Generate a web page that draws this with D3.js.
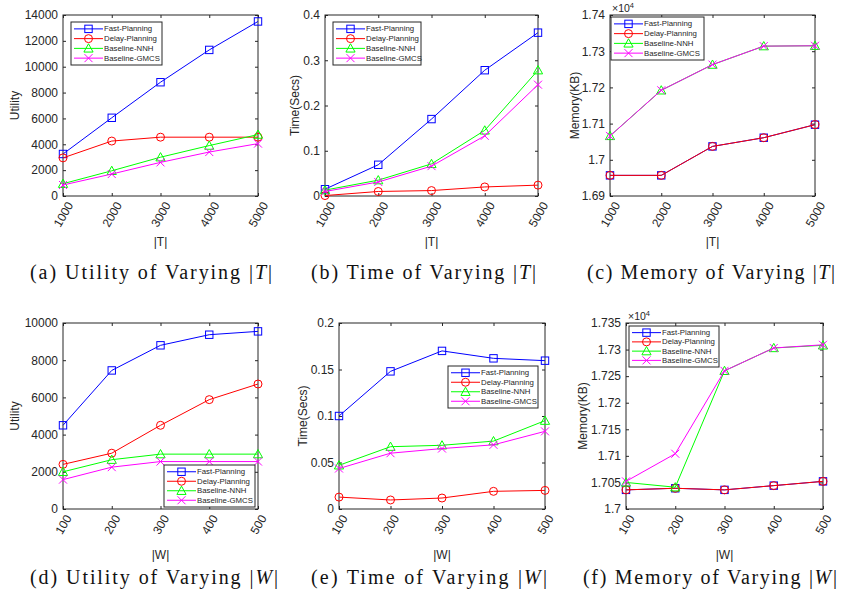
<!DOCTYPE html>
<html><head><meta charset="utf-8">
<script src="https://cdn.jsdelivr.net/npm/d3@7"></script>
<style>body{margin:0;background:#fff}svg{display:block}</style>
</head><body><svg id="chart" width="841" height="598"></svg>
<script>
// ---------------- DATA ----------------
const seriesNames = ["Fast-Planning", "Delay-Planning", "Baseline-NNH", "Baseline-GMCS"];
const xT = [1000, 2000, 3000, 4000, 5000];
const xW = [100, 200, 300, 400, 500];

// (a) Utility of varying |T|
const utilityT_Fast  = [3250, 6050, 8800, 11300, 13500];
const utilityT_Delay = [2950, 4250, 4550, 4550, 4550];
const utilityT_NNH   = [950, 1950, 3000, 3900, 4750];
const utilityT_GMCS  = [850, 1700, 2600, 3400, 4050];
// (b) Time of varying |T|
const timeT_Fast  = [0.015, 0.069, 0.170, 0.278, 0.361];
const timeT_Delay = [0.001, 0.010, 0.012, 0.020, 0.024];
const timeT_NNH   = [0.013, 0.035, 0.071, 0.145, 0.278];
const timeT_GMCS  = [0.010, 0.031, 0.066, 0.133, 0.246];
// (c) Memory of varying |T| (KB)
const memT_Fast  = [16957, 16957, 17037, 17061, 17097];
const memT_Delay = [16957, 16957, 17037, 17061, 17097];
const memT_NNH   = [17066, 17192, 17263, 17314, 17315];
const memT_GMCS  = [17066, 17192, 17263, 17314, 17315];
// (d) Utility of varying |W|
const utilityW_Fast  = [4500, 7450, 8800, 9370, 9550];
const utilityW_Delay = [2400, 3000, 4500, 5880, 6720];
const utilityW_NNH   = [2000, 2650, 2950, 2950, 2950];
const utilityW_GMCS  = [1580, 2250, 2550, 2550, 2550];
// (e) Time of varying |W|
const timeW_Fast  = [0.100, 0.148, 0.170, 0.162, 0.1595];
const timeW_Delay = [0.0128, 0.0097, 0.0118, 0.019, 0.020];
const timeW_NNH   = [0.047, 0.067, 0.0685, 0.073, 0.095];
const timeW_GMCS  = [0.0435, 0.060, 0.065, 0.069, 0.0835];
// (f) Memory of varying |W| (KB)
const memW_Fast  = [17036, 17039, 17036, 17044, 17052];
const memW_Delay = [17036, 17039, 17036, 17044, 17052];
const memW_NNH   = [17050, 17041, 17260, 17303, 17308];
const memW_GMCS  = [17052, 17104, 17260, 17303, 17309];

// tick values
const yTicksUtilityT = [0, 2000, 4000, 6000, 8000, 10000, 12000, 14000];
const yTicksTimeT = [0, 0.1, 0.2, 0.3, 0.4];
const yTicksMemT = [16900, 17000, 17100, 17200, 17300, 17400];
const yTicksUtilityW = [0, 2000, 4000, 6000, 8000, 10000];
const yTicksTimeW = [0, 0.05, 0.1, 0.15, 0.2];
const yTicksMemW = [17000, 17050, 17100, 17150, 17200, 17250, 17300, 17350];

const captionLetters = ["(a)", "(b)", "(c)", "(d)", "(e)", "(f)"];
const captionTexts = ["Utility of Varying |", "Time of Varying |", "Memory of Varying |",
                      "Utility of Varying |", "Time of Varying |", "Memory of Varying |"];
const captionVars = ["T", "T", "T", "W", "W", "W"];

// ---------------- STYLE ----------------
const colors = ["#0000ff", "#ff0000", "#00ff00", "#ff00ff"];
const markers = ["square", "circle", "triangle", "x"];
const axisColor = "#262626";
const sans = "'Liberation Sans', Arial, sans-serif";
const serif = "'Liberation Serif', 'DejaVu Serif', serif";

const fmtInt = d => String(d);
const fmtDec = d => String(+d.toFixed(3));
const fmtMem = d => String(+(d / 1e4).toFixed(4));

const panels = [
  {x: xT, series: [utilityT_Fast, utilityT_Delay, utilityT_NNH, utilityT_GMCS], xDomain: [1000, 5000], yDomain: [0, 14000], yTicks: yTicksUtilityT, yFmt: fmtInt, ylabel: "Utility", xlabel: "|T|",
   box: {L: 63, R: 258, T: 15, B: 196}, ylabelX: 15, legend: {x: 71, y: 22, w: 91, h: 43}, cap: {x: 30, w: 242, y: 279}},
  {x: xT, series: [timeT_Fast, timeT_Delay, timeT_NNH, timeT_GMCS], xDomain: [1000, 5000], yDomain: [0, 0.4], yTicks: yTicksTimeT, yFmt: fmtDec, ylabel: "Time(Secs)", xlabel: "|T|",
   box: {L: 325, R: 538, T: 15, B: 196}, ylabelX: 295, legend: {x: 333, y: 22, w: 88, h: 43}, cap: {x: 311, w: 225, y: 279}},
  {x: xT, series: [memT_Fast, memT_Delay, memT_NNH, memT_GMCS], xDomain: [1000, 5000], yDomain: [16900, 17400], yTicks: yTicksMemT, yFmt: fmtMem, ylabel: "Memory(KB)", xlabel: "|T|", exp: true,
   box: {L: 610, R: 815, T: 15, B: 196}, ylabelX: 575, legend: {x: 611, y: 17, w: 93, h: 43}, cap: {x: 587, w: 248, y: 279}},
  {x: xW, series: [utilityW_Fast, utilityW_Delay, utilityW_NNH, utilityW_GMCS], xDomain: [100, 500], yDomain: [0, 10000], yTicks: yTicksUtilityW, yFmt: fmtInt, ylabel: "Utility", xlabel: "|W|",
   box: {L: 63, R: 258, T: 323, B: 509}, ylabelX: 15, legend: {x: 164, y: 465, w: 91, h: 42}, cap: {x: 30, w: 248, y: 584}},
  {x: xW, series: [timeW_Fast, timeW_Delay, timeW_NNH, timeW_GMCS], xDomain: [100, 500], yDomain: [0, 0.2], yTicks: yTicksTimeW, yFmt: fmtDec, ylabel: "Time(Secs)", xlabel: "|W|",
   box: {L: 339, R: 545, T: 323, B: 509}, ylabelX: 303, legend: {x: 448, y: 366, w: 90, h: 42}, cap: {x: 311, w: 236, y: 584}},
  {x: xW, series: [memW_Fast, memW_Delay, memW_NNH, memW_GMCS], xDomain: [100, 500], yDomain: [17000, 17350], yTicks: yTicksMemW, yFmt: fmtMem, ylabel: "Memory(KB)", xlabel: "|W|", exp: true,
   box: {L: 626, R: 823, T: 323, B: 509}, ylabelX: 583, legend: {x: 629, y: 326, w: 90, h: 41}, cap: {x: 583, w: 254, y: 584}}
];

const svg = d3.select("#chart");

function drawMarker(g, type, cx, cy, color) {
  if (type === "square") {
    g.append("rect").attr("x", cx - 3.7).attr("y", cy - 3.7).attr("width", 7.4).attr("height", 7.4)
      .attr("fill", "none").attr("stroke", color).attr("stroke-width", 1);
  } else if (type === "circle") {
    g.append("circle").attr("cx", cx).attr("cy", cy).attr("r", 4)
      .attr("fill", "none").attr("stroke", color).attr("stroke-width", 1);
  } else if (type === "triangle") {
    const h = 4.6;
    g.append("path").attr("d", `M${cx},${cy - h}L${cx + 4.6},${cy + h * 0.8}L${cx - 4.6},${cy + h * 0.8}Z`)
      .attr("fill", "none").attr("stroke", color).attr("stroke-width", 1);
  } else {
    const s = 4;
    g.append("path").attr("d", `M${cx - s},${cy - s}L${cx + s},${cy + s}M${cx - s},${cy + s}L${cx + s},${cy - s}`)
      .attr("fill", "none").attr("stroke", color).attr("stroke-width", 1);
  }
}

panels.forEach((p, pi) => {
  const b = p.box;
  const g = svg.append("g");
  const x = d3.scaleLinear().domain(p.xDomain).range([b.L, b.R]);
  const y = d3.scaleLinear().domain(p.yDomain).range([b.B, b.T]);

  // box
  g.append("rect").attr("x", b.L).attr("y", b.T).attr("width", b.R - b.L).attr("height", b.B - b.T)
    .attr("fill", "#fff").attr("stroke", axisColor).attr("stroke-width", 1);

  // axes (inward ticks on all sides)
  const styleAxis = sel => {
    sel.select(".domain").remove();
    sel.selectAll("line").attr("stroke", axisColor);
    sel.selectAll("text").attr("fill", axisColor).attr("font-family", sans).attr("font-size", 12);
  };
  const bottom = g.append("g").attr("transform", `translate(0,${b.B})`)
    .call(d3.axisBottom(x).tickValues(p.x).tickSize(-3).tickFormat(d3.format("d"))).call(styleAxis);
  bottom.selectAll("text").each(function () {
    const t = d3.select(this);
    const L = this.getComputedTextLength();
    const off = 4 + (L / 2) * Math.sin(Math.PI / 3) + 6 * Math.cos(Math.PI / 3);
    t.attr("y", null).attr("dy", null).attr("text-anchor", "middle").attr("dominant-baseline", "central")
      .attr("transform", `translate(0,${off}) rotate(-60)`);
  });
  g.append("g").attr("transform", `translate(0,${b.T})`)
    .call(d3.axisTop(x).tickValues(p.x).tickSize(-3).tickFormat("")).call(styleAxis);
  g.append("g").attr("transform", `translate(${b.L},0)`)
    .call(d3.axisLeft(y).tickValues(p.yTicks).tickSize(-3).tickPadding(5).tickFormat(p.yFmt)).call(styleAxis);
  g.append("g").attr("transform", `translate(${b.R},0)`)
    .call(d3.axisRight(y).tickValues(p.yTicks).tickSize(-3).tickFormat("")).call(styleAxis);

  // exponent label
  if (p.exp) {
    const t = g.append("text").attr("x", b.L + 2).attr("y", b.T - 3).attr("fill", axisColor)
      .attr("font-family", sans).attr("font-size", 10.5).text("×10");
    t.append("tspan").attr("dy", -4).attr("font-size", 7.5).text("4");
  }

  // axis labels
  g.append("text").attr("transform", `translate(${p.ylabelX},${(b.T + b.B) / 2}) rotate(-90)`)
    .attr("text-anchor", "middle").attr("dominant-baseline", "central").attr("fill", axisColor)
    .attr("font-family", sans).attr("font-size", 12).text(p.ylabel);
  g.append("text").attr("x", (b.L + b.R) / 2).attr("y", b.B + 50).attr("text-anchor", "middle")
    .attr("fill", axisColor).attr("font-family", sans).attr("font-size", 12).text(p.xlabel);

  // series
  const line = d3.line().x(d => x(d[0])).y(d => y(d[1]));
  p.series.forEach((vals, si) => {
    const pts = p.x.map((xv, i) => [xv, vals[i]]);
    const sg = g.append("g");
    sg.append("path").attr("d", line(pts)).attr("fill", "none").attr("stroke", colors[si]).attr("stroke-width", 1);
    pts.forEach(d => drawMarker(sg, markers[si], x(d[0]), y(d[1]), colors[si]));
  });

  // legend
  const lg = p.legend;
  const leg = g.append("g");
  leg.append("rect").attr("x", lg.x).attr("y", lg.y).attr("width", lg.w).attr("height", lg.h)
    .attr("fill", "#fff").attr("stroke", axisColor).attr("stroke-width", 1);
  const pitch = (lg.h - 4) / 4;
  seriesNames.forEach((name, si) => {
    const cy = lg.y + 2 + pitch * (si + 0.5);
    leg.append("line").attr("x1", lg.x + 3).attr("x2", lg.x + 32).attr("y1", cy).attr("y2", cy)
      .attr("stroke", colors[si]).attr("stroke-width", 1);
    drawMarker(leg, markers[si], lg.x + 17.5, cy, colors[si]);
    leg.append("text").attr("x", lg.x + 33).attr("y", cy).attr("dominant-baseline", "central")
      .attr("fill", axisColor).attr("font-family", sans).attr("font-size", 7.8).text(name);
  });

  // caption
  const c = p.cap;
  const ct = svg.append("text").attr("x", c.x).attr("y", c.y).attr("font-family", serif).attr("font-size", 20)
    .attr("fill", "#111").attr("textLength", c.w).attr("lengthAdjust", "spacing");
  ct.append("tspan").text(captionLetters[pi] + " " + captionTexts[pi]);
  ct.append("tspan").attr("font-style", "italic").text(captionVars[pi]);
  ct.append("tspan").text("|");
});
</script></body></html>
